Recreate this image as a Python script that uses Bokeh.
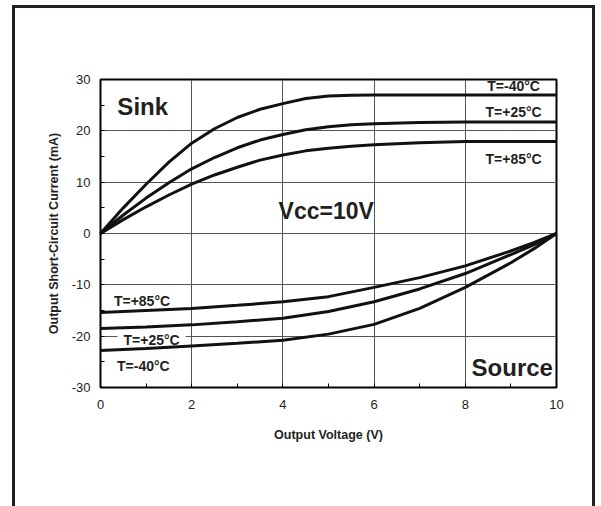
from bokeh.plotting import figure
from bokeh.models import Label, SingleIntervalTicker, Range1d
from bokeh.embed import file_html
from bokeh.resources import INLINE

# ---- data ----
sink_v = [0, 0.5, 1, 1.5, 2, 2.5, 3, 3.5, 4, 4.5, 5, 5.5, 6, 7, 8, 9, 10]
sink_m40 = [0, 5.0, 9.6, 13.9, 17.6, 20.4, 22.6, 24.2, 25.3, 26.3, 26.8, 26.95, 27.0, 27.0, 27.0, 27.0, 27.0]
sink_p25 = [0, 3.6, 6.9, 9.9, 12.6, 14.8, 16.7, 18.2, 19.3, 20.2, 20.8, 21.2, 21.4, 21.6, 21.7, 21.7, 21.7]
sink_p85 = [0, 2.7, 5.2, 7.5, 9.6, 11.4, 12.9, 14.3, 15.3, 16.1, 16.6, 17.0, 17.3, 17.7, 17.9, 17.9, 17.9]

src_v = [0, 1, 2, 3, 4, 5, 6, 7, 8, 9, 9.5, 10]
src_p85 = [-15.4, -15.0, -14.6, -14.0, -13.3, -12.3, -10.5, -8.6, -6.3, -3.4, -1.8, 0]
src_p25 = [-18.5, -18.2, -17.8, -17.2, -16.5, -15.2, -13.3, -10.8, -7.8, -4.1, -2.2, 0]
src_m40 = [-22.8, -22.4, -21.9, -21.4, -20.8, -19.6, -17.7, -14.6, -10.5, -5.7, -3.0, 0]

y_tick_labels = {-30: "-30", -20: "-20", -10: "-10", 0: "0", 10: "10", 20: "20", 30: "30"}
x_title = "Output Voltage (V)"
y_title = "Output Short-Circuit Current (mA)"

FONT = "Liberation Sans"
INK = "#231f20"

p = figure(width=601, height=506, output_backend="svg", toolbar_location=None,
           x_range=Range1d(0, 10), y_range=Range1d(-30, 30),
           min_border_left=100, min_border_right=45, min_border_top=79, min_border_bottom=119)
p.background_fill_color = "white"
p.border_fill_color = None
# outer page frame drawn behind the transparent canvas border area
g = "linear-gradient(%s,%s)" % (INK, INK)
p.styles = {
    "background-color": "white",
    "background-image": ", ".join([g, g, g]),
    "background-position": "12px 5px, 12px 5px, 592px 5px",
    "background-size": "3px 700px, 583px 3px, 3px 700px",
    "background-repeat": "no-repeat",
}
p.outline_line_color = "black"
p.outline_line_width = 2

p.xaxis.ticker = SingleIntervalTicker(interval=2, num_minor_ticks=2)
p.yaxis.ticker = SingleIntervalTicker(interval=10, num_minor_ticks=2)
p.yaxis.major_label_overrides = y_tick_labels
for ax in (p.xaxis, p.yaxis):
    ax.axis_line_color = None
    ax.major_tick_in = 0
    ax.major_tick_out = 0
    ax.minor_tick_in = 4
    ax.minor_tick_out = 0
    ax.minor_tick_line_color = "black"
    ax.minor_tick_line_width = 1
    ax.major_label_text_font = FONT
    ax.major_label_text_font_size = "13px"
    ax.major_label_text_color = INK
    ax.axis_label_text_font = FONT
    ax.axis_label_text_font_style = "bold"
    ax.axis_label_text_font_size = "12.5px"
    ax.axis_label_text_color = INK
p.xaxis.major_label_standoff = 12
p.yaxis.major_label_standoff = 10
p.xaxis.axis_label = x_title
p.yaxis.axis_label = y_title
p.xaxis.axis_label_standoff = 16
p.yaxis.axis_label_standoff = 8

p.grid.grid_line_color = "#555555"
p.grid.grid_line_width = 1

for ys in (sink_m40, sink_p25, sink_p85):
    p.line(sink_v, ys, line_color="#111111", line_width=3, level="overlay")
for ys in (src_p85, src_p25, src_m40):
    p.line(src_v, ys, line_color="#111111", line_width=3, level="overlay")

def lab(x, y, t, size, align="center", bg=None):
    kw = dict(x=x, y=y, text=t, text_font=FONT, text_font_style="bold",
              text_font_size=size, text_color=INK, text_align=align,
              text_baseline="middle")
    if bg:
        kw.update(background_fill_color=bg, padding=(6, 2))
    p.add_layout(Label(**kw))

lab(0.37, 24.8, "Sink", "24px", align="left")
lab(4.95, 4.4, "Vcc=10V", "23px")
lab(9.03, -26.1, "Source", "24px")
lab(9.06, 28.75, "T=-40°C", "14px")
lab(9.06, 23.6, "T=+25°C", "14px")
lab(9.06, 14.5, "T=+85°C", "14px")
lab(0.91, -13.1, "T=+85°C", "14px")
lab(1.12, -20.8, "T=+25°C", "14px", bg="white")
lab(0.94, -25.8, "T=-40°C", "14px")

open("out.html", "w").write(file_html(p, INLINE))
